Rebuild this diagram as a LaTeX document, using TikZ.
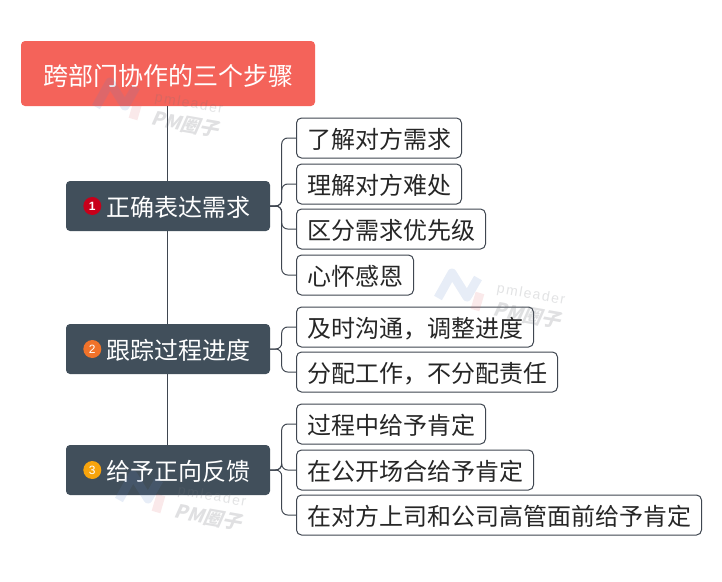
\documentclass[tikz,border=0pt]{standalone}
\usepackage{fontspec}
\setmainfont{Noto Sans CJK SC}
\newfontfamily\latinfont{Liberation Sans}
\newfontfamily\markfont[FakeSlant=0.25]{Noto Sans CJK SC}
\usetikzlibrary{arrows.meta}
\definecolor{titlered}{HTML}{F4635A}
\definecolor{topicgray}{HTML}{414F5B}
\definecolor{linegray}{HTML}{3F4650}
\definecolor{badgered}{HTML}{C8001A}
\definecolor{badgeorange}{HTML}{F0722A}
\definecolor{badgeyellow}{HTML}{F8A40C}
\definecolor{markblue}{HTML}{5F84C6}
\definecolor{markpink}{HTML}{E06A72}
\definecolor{markgray}{HTML}{70747A}
\tikzset{
  titlebox/.style={fill=titlered,rounded corners=4pt,text=white,minimum width=294pt,
    minimum height=65pt,inner sep=0pt,text height=25pt,text depth=2pt,font=\fontsize{25}{30}\selectfont},
  topicbox/.style={fill=topicgray,rounded corners=4pt,text=white,minimum width=204pt,
    minimum height=50pt,inner sep=0pt,text height=22pt,text depth=2pt,font=\fontsize{24}{28}\selectfont},
  subbox/.style={draw=linegray,fill=white,line width=1pt,rounded corners=5pt,anchor=west,text=black!85,
    minimum height=40pt,inner xsep=10.5pt,inner ysep=0pt,text height=22pt,text depth=2pt,
    font=\fontsize{24}{28}\selectfont},
  badge/.style={circle,inner sep=0pt,minimum size=18pt,text=white,font=\latinfont\fontsize{12}{13}\selectfont},
  spine/.style={draw=linegray,line width=1pt},
  branch/.style={draw=linegray,line width=1pt,rounded corners=6pt},
  markline/.style={line width=9pt,line join=round,opacity=0.15}
}
\newcommand{\PMMARK}[2]{%
  \draw[markline,draw=markblue](#1-20,#2+5) -- (#1-6,#2-20) -- (#1+9,#2+4) -- (#1+20,#2-15);
  \draw[markline,draw=markpink](#1+22,#2) -- (#1+17,#2+17);
  \node[text=markgray,text opacity=0.2,rotate=-10,font=\latinfont\fontsize{14}{15}\selectfont] at (#1+73,#2+2) {p\kern1.5pt m\kern1.5pt l\kern1.5pt e\kern1.5pt a\kern1.5pt d\kern1.5pt e\kern1.5pt r};
  \node[text=markgray,text opacity=0.22,rotate=-10,font=\markfont\bfseries\fontsize{19}{20}\selectfont] at (#1+69,#2+22) {PM圈子};
}
\begin{document}
\begin{tikzpicture}[x=1pt,y=-1pt]

\useasboundingbox (0,0) rectangle (722,581);

%% main boxes
\node[titlebox] (title) at (168,73.5) {跨部门协作的三个步骤};
\node[topicbox] (topicA) at (168,206) {\hspace{20pt}正确表达需求};
\node[topicbox] (topicB) at (168,349) {\hspace{20pt}跟踪过程进度};
\node[topicbox] (topicC) at (168,470) {\hspace{20pt}给予正向反馈};

\node[badge,fill=badgered] (badgeA) at ([xshift=26.5pt]topicA.west) {\textbf{1}};
\node[badge,fill=badgeorange] (badgeB) at ([xshift=26.5pt]topicB.west) {2};
\node[badge,fill=badgeyellow] (badgeC) at ([xshift=26.5pt]topicC.west) {3};

%% right column
\node[subbox] (subA) at (296,138) {了解对方需求};
\node[subbox] (subB) at (296,184) {理解对方难处};
\node[subbox] (subC) at (296,229) {区分需求优先级};
\node[subbox] (subD) at (296,275) {心怀感恩};
\node[subbox] (subE) at (296,327) {及时沟通，调整进度};
\node[subbox] (subF) at (296,372) {分配工作，不分配责任};
\node[subbox] (subG) at (296,424) {过程中给予肯定};
\node[subbox] (subH) at (296,470) {在公开场合给予肯定};
\node[subbox] (subI) at (296,515) {在对方上司和公司高管面前给予肯定};

%% connectors
\draw[spine] ([xshift=-0.5pt]title.south) -- ([xshift=-0.5pt]topicA.north);
\draw[spine] ([xshift=-0.5pt]topicA.south) -- ([xshift=-0.5pt]topicB.north);
\draw[spine] ([xshift=-0.5pt]topicB.south) -- ([xshift=-0.5pt]topicC.north);

\foreach \sub in {subA,subB,subC,subD}
  \draw[branch] (topicA.east) -- ++(11.5,0) |- (\sub.west);
\foreach \sub in {subE,subF}
  \draw[branch] (topicB.east) -- ++(11.5,0) |- (\sub.west);
\foreach \sub in {subG,subH,subI}
  \draw[branch] (topicC.east) -- ++(11.5,0) |- (\sub.west);

%% watermarks
\PMMARK{116}{102}
\PMMARK{458}{293}
\PMMARK{139}{495}

\end{tikzpicture}
\end{document}
